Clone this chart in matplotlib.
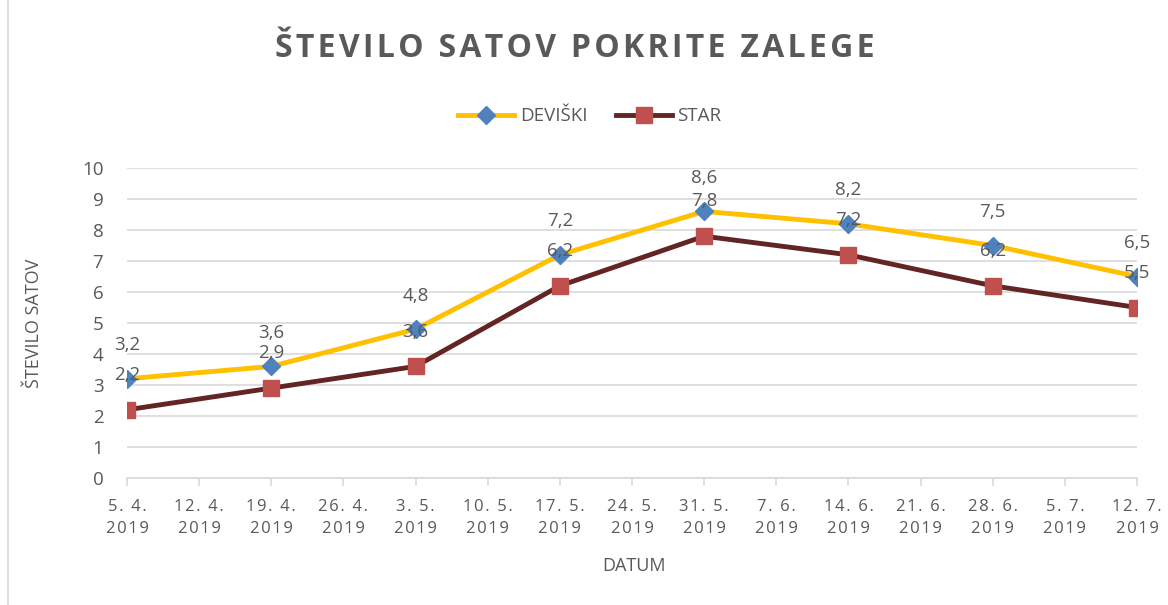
import pandas as pd
import matplotlib
matplotlib.use("Agg")
import matplotlib.pyplot as plt
from matplotlib.patches import Rectangle

# ── DATI ────────────────────────────────────────────────────────────────────
datumi = ["2019-04-05", "2019-04-19", "2019-05-03", "2019-05-17",
          "2019-05-31", "2019-06-14", "2019-06-28", "2019-07-12"]
deviski = [3.2, 3.6, 4.8, 7.2, 8.6, 8.2, 7.5, 6.5]
star    = [2.2, 2.9, 3.6, 6.2, 7.8, 7.2, 6.2, 5.5]

GRAY = "#595959"
HS = "\u200a"  # hair space per spaziatura lettere
plt.rcParams["font.family"] = ["Open Sans", "DejaVu Sans"]


def spaziato(s):
    return HS.join(s)


x = pd.to_datetime(datumi)
ticks = pd.date_range("2019-04-05", "2019-07-12", freq="7D")

fig = plt.figure(figsize=(11.68, 6.05), dpi=100)
fig.patches.append(Rectangle((0.007, -0.01), 1.2, 1.2, transform=fig.transFigure,
                             fill=False, edgecolor="#d9d9d9", lw=1.2))
ax = fig.add_axes([0.1087, 0.2099, 0.8648, 0.5124])

ax.plot(x, deviski, color="#FFC000", lw=3.5, marker="D", markersize=9,
        markerfacecolor="#4F81BD", markeredgecolor="#4F81BD", label="DEVIŠKI", zorder=4)
ax.plot(x, star, color="#632523", lw=3.5, marker="s", markersize=11,
        markerfacecolor="#C0504D", markeredgecolor="#C0504D", label="STAR", zorder=3)

for xi, v in zip(x, deviski):
    ax.annotate(f"{v:.1f}".replace(".", ","), (xi, v), xytext=(0, 24), textcoords="offset points",
                ha="center", va="center", fontsize=13.5, color=GRAY, zorder=5)
for xi, v in zip(x, star):
    ax.annotate(f"{v:.1f}".replace(".", ","), (xi, v), xytext=(0, 25), textcoords="offset points",
                ha="center", va="center", fontsize=13.5, color=GRAY, zorder=5)

ax.set_ylim(0, 10)
ax.set_yticks(range(0, 11))
ax.set_xlim(ticks[0], ticks[-1])
ax.set_xticks(ticks)
ax.set_xticklabels([spaziato(f"{d.day}. {d.month}.") + "\n" + spaziato(str(d.year)) for d in ticks],
                   fontsize=12, color=GRAY, linespacing=1.55)
ax.tick_params(axis="y", length=0, labelsize=13.5, labelcolor=GRAY, pad=17)
ax.tick_params(axis="x", length=6, color="#d9d9d9", width=1.2, pad=9)
ax.grid(axis="y", color="#d9d9d9", lw=1.2)
ax.set_axisbelow(True)
for s in ["top", "right", "left"]:
    ax.spines[s].set_visible(False)
ax.spines["bottom"].set_color("#d9d9d9")
ax.spines["bottom"].set_linewidth(1.2)
ax.spines["bottom"].set_zorder(0.5)

ax.set_ylabel("ŠTEVILO SATOV", fontsize=13, color=GRAY)
ax.yaxis.set_label_coords(-0.083, 0.5)
fig.text(0.543, 0.065, "DATUM", fontsize=13, color=GRAY, ha="center", va="center")
fig.text(0.492, 0.92, spaziato("ŠTEVILO SATOV POKRITE ZALEGE"), fontsize=23, fontweight="bold",
         color=GRAY, ha="center", va="center")
fig.legend(loc="center", bbox_to_anchor=(0.505, 0.808), ncol=2, frameon=False,
           fontsize=13.5, labelcolor=GRAY, handlelength=3, columnspacing=1.5, handletextpad=0.3)

plt.savefig("out.png", dpi=100)
